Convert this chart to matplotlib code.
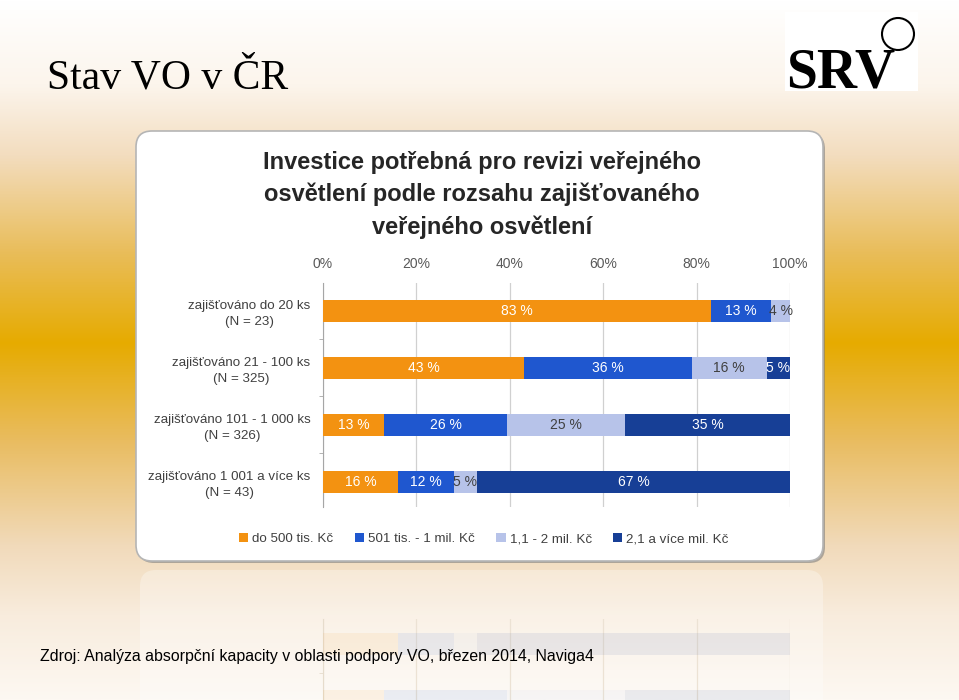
import numpy as np
import matplotlib
matplotlib.use("Agg")
import matplotlib.pyplot as plt
from matplotlib.colors import LinearSegmentedColormap
from matplotlib.patches import FancyBboxPatch, Rectangle, Circle, Patch
from matplotlib.ticker import FixedLocator
from matplotlib import font_manager

# data
categories = ["zajišťováno do 20 ks\n(N = 23)",
              "zajišťováno 21 - 100 ks\n(N = 325)",
              "zajišťováno 101 - 1 000 ks\n(N = 326)",
              "zajišťováno 1 001 a více ks\n(N = 43)"]
series_names = ["do 500 tis. Kč", "501 tis. - 1 mil. Kč", "1,1 - 2 mil. Kč", "2,1 a více mil. Kč"]
do_500 = [83, 43, 13, 16]
do_1mil = [13, 36, 26, 12]
do_2mil = [4, 16, 25, 5]
nad_2mil = [0, 5, 35, 67]
xticks = [0, 20, 40, 60, 80, 100]

colors = ["#F39211", "#1F57CF", "#B7C3E9", "#173F96"]
text_colors = ["white", "white", "#404040", "white"]

W, H = 959, 700

# pick a narrow sans if present
names = {f.name for f in font_manager.fontManager.ttflist}
narrow = "Liberation Sans Narrow" if "Liberation Sans Narrow" in names else "Liberation Sans"

fig = plt.figure(figsize=(W / 100, H / 100), dpi=100)

def fx(px):
    return px / W

def fy(py):
    return 1 - py / H

# background gradient + decorations in pixel coordinates
bg = fig.add_axes([0, 0, 1, 1], zorder=0)
bg.set_xlim(0, W)
bg.set_ylim(H, 0)
bg.axis("off")
cmap = LinearSegmentedColormap.from_list("slide", [
    (0.0, "#FFFFFF"), (0.12, "#FCF5EC"), (0.22, "#F3DDBF"), (0.36, "#E9BD5A"),
    (0.49, "#E6AB00"), (0.63, "#E9BC60"), (0.78, "#F1DABA"), (0.88, "#F8ECDD"),
    (1.0, "#FDF8F2")])
bg.imshow(np.linspace(0, 1, 256)[:, None], cmap=cmap, aspect="auto",
          extent=[0, W, H, 0], zorder=0)

# chart frame with shadow
bg.add_patch(FancyBboxPatch((138, 133), 687, 430, boxstyle="round,pad=0,rounding_size=16",
                            fc="#7f7f7f", ec="none", alpha=0.6, zorder=1))
bg.add_patch(FancyBboxPatch((136, 131), 687, 430, boxstyle="round,pad=0,rounding_size=16",
                            fc="white", ec="#b5b5b5", lw=1.2, zorder=2))
# faint reflection of the frame
bg.add_patch(FancyBboxPatch((140, 570), 683, 300, boxstyle="round,pad=0,rounding_size=16",
                            fc="white", ec="none", alpha=0.3, zorder=1))

# logo
bg.add_patch(Rectangle((785, 12), 133, 79, fc="white", ec="none", zorder=2))
bg.text(786, 88, "SRV", fontsize=40, fontweight="bold", family="Liberation Serif",
        va="baseline", ha="left", color="black", zorder=3)
bg.add_patch(Circle((898, 34), 16, fc="none", ec="black", lw=1.5, zorder=3))

# slide title and source
fig.text(fx(47), fy(78), "Stav VO v ČR", family="Liberation Serif", fontsize=30,
         color="black", va="center", ha="left")
fig.text(fx(40), fy(656), "Zdroj: Analýza absorpční kapacity v oblasti podpory VO, březen 2014, Naviga4",
         family=narrow, fontsize=11.4, color="black", va="center", ha="left", zorder=5)

# chart title
fig.text(fx(482), fy(195), "Investice potřebná pro revizi veřejného\nosvětlení podle rozsahu zajišťovaného\nveřejného osvětlení",
         family=narrow, fontsize=17, fontweight="bold", color="#262626",
         ha="center", va="center", linespacing=1.5, zorder=5)

values = [do_500, do_1mil, do_2mil, nad_2mil]
totals = np.sum(values, axis=0)
y = np.arange(len(categories))


def draw_bars(ax, alpha=1.0, labels=True):
    left = np.zeros(len(categories))
    for vals, col, tc in zip(values, colors, text_colors):
        share = np.array(vals) / totals * 100
        ax.barh(y, share, left=left, height=0.38, color=col, alpha=alpha, zorder=3)
        if labels:
            for yi, (v, s, l) in enumerate(zip(vals, share, left)):
                if v > 0:
                    ax.text(l + s / 2, yi, f"{v} %", ha="center", va="center",
                            color=tc, fontsize=10, family=narrow, zorder=4)
        left += share


def style_axes(ax):
    ax.set_facecolor("none")
    ax.set_xlim(0, 100)
    for s in ["top", "right", "bottom"]:
        ax.spines[s].set_visible(False)
    ax.spines["left"].set_color("#a6a6a6")
    ax.set_xticks(xticks)
    ax.grid(axis="x", color="#d0d0d0", lw=0.9, zorder=0)
    ax.yaxis.set_minor_locator(FixedLocator(np.arange(-0.5, len(categories), 1.0)))
    ax.tick_params(axis="y", which="minor", length=3, color="#a6a6a6")


ax = fig.add_axes([fx(323), fy(507), fx(790) - fx(323), (507 - 283) / H], zorder=2)
style_axes(ax)
ax.set_ylim(3.44, -0.49)
draw_bars(ax)
ax.xaxis.tick_top()
ax.set_xticklabels([f"{t}%" for t in xticks], family=narrow, fontsize=10, color="#595959")
ax.tick_params(axis="x", length=0, pad=9)
ax.set_yticks(y)
ax.set_yticklabels(categories, family=narrow, fontsize=9.6, color="#404040",
                   multialignment="center", linespacing=1.35)
ax.tick_params(axis="y", which="major", length=0, pad=9)

# legend
handles = [Patch(fc=c, ec="none") for c in colors]
fig.legend(handles, series_names, loc="center", bbox_to_anchor=(fx(484), fy(539)), ncol=4,
           frameon=False, handlelength=0.7, handleheight=0.7, handletextpad=0.3,
           columnspacing=1.6, prop={"family": narrow, "size": 9.6}, labelcolor="#404040")

# faint mirrored reflection below the frame
rax = fig.add_axes([fx(323), fy(843), fx(790) - fx(323), (507 - 283) / H], zorder=1)
style_axes(rax)
rax.grid(axis="x", color="#ece2d4", lw=0.9, zorder=0)
rax.spines["left"].set_color("#e6dccc")
rax.set_ylim(-0.49, 3.44)
draw_bars(rax, alpha=0.08, labels=False)
rax.set_xticklabels([])
rax.set_yticks([])
rax.tick_params(axis="x", length=0)
rax.tick_params(axis="y", which="minor", color="#e6dccc")

fig.savefig("out.png", dpi=100)
